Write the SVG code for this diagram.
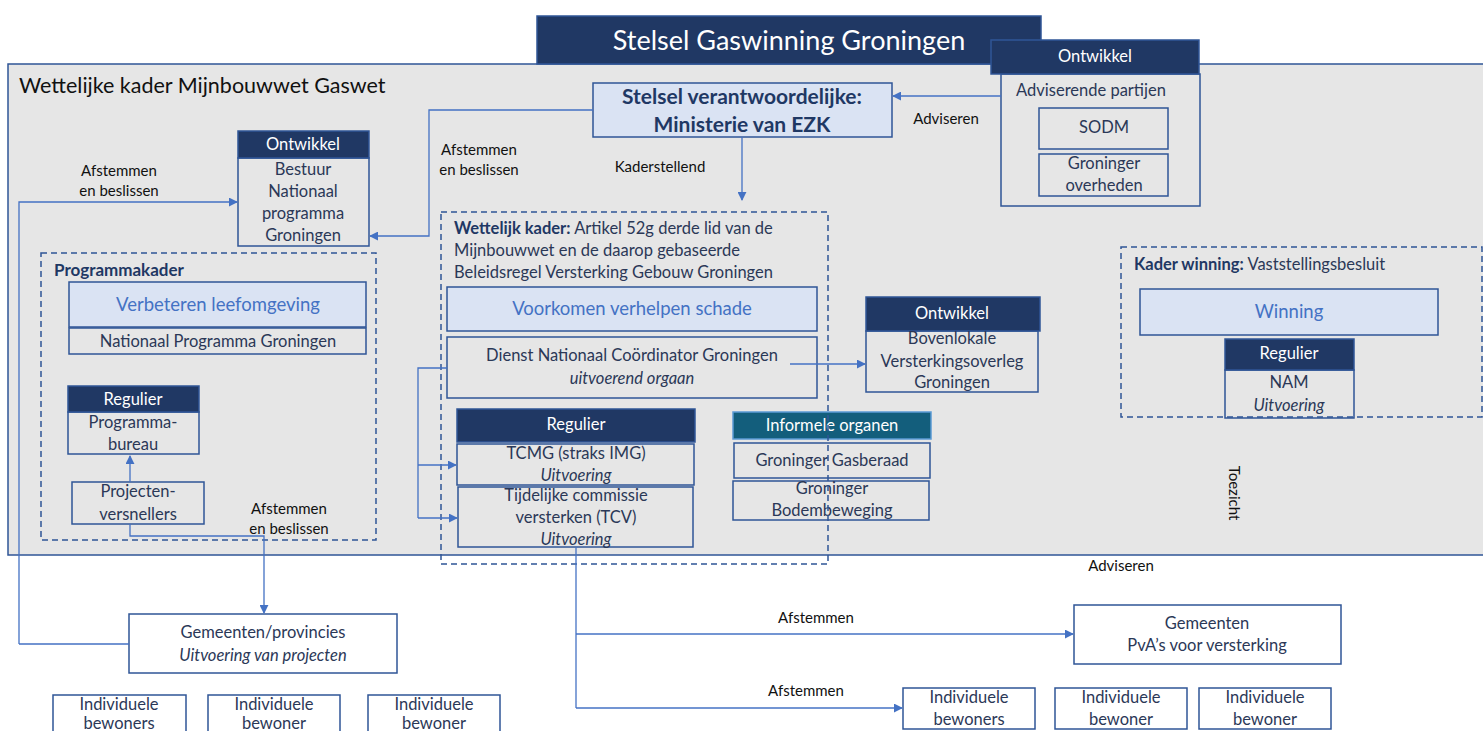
<svg xmlns="http://www.w3.org/2000/svg" width="1483" height="731" viewBox="0 0 1483 731">
<style>
text{font-family:Lato,"Noto Sans","Open Sans",sans-serif;}
.b{fill:none;stroke:#2f5597;stroke-width:1.5}
.bw{fill:#fff;stroke:#2f5597;stroke-width:1.5}
.lf{fill:#dae3f3;stroke:#2f5597;stroke-width:1.5}
.hd{fill:#203864;stroke:#2f5597;stroke-width:1.5}
.dash{fill:none;stroke:#2f5597;stroke-width:1.5;stroke-dasharray:6 4}
.c{fill:none;stroke:#4472c4;stroke-width:1.3}
.ca{fill:none;stroke:#4472c4;stroke-width:1.3;marker-end:url(#ah)}
.t{fill:#2b3857;font-size:16.5px;text-anchor:middle}
.ti{fill:#2b3857;font-size:16.5px;text-anchor:middle;font-style:italic}
.w{fill:#fff;font-size:16.5px;text-anchor:middle}
.bl{fill:#4472c4;font-size:18.5px;text-anchor:middle}
.lab{fill:#111;font-size:15px;text-anchor:middle}
.para{font-size:16.5px;fill:#2b3857}
</style>
<defs>
<marker id="ah" viewBox="0 0 10 10" refX="9" refY="5" markerWidth="9" markerHeight="9" markerUnits="userSpaceOnUse" orient="auto">
<path d="M0,0 L10,5 L0,10 z" fill="#4472c4"/>
</marker>
</defs>
<rect x="0" y="0" width="1483" height="731" fill="#fff"/>

<g id="frame">
<rect x="8" y="64" width="1485" height="491" fill="#e6e6e6" stroke="#2f5597" stroke-width="1.5"/>
<text x="19" y="93" style="font-size:21.5px;fill:#111">Wettelijke kader Mijnbouwwet Gaswet</text>
</g>

<g id="title">
<rect x="537" y="16" width="504" height="48" class="hd"/>
<text x="789" y="50" class="w" style="font-size:27px">Stelsel Gaswinning Groningen</text>
</g>

<g id="adviserende">
<rect x="1001" y="74" width="199" height="132" class="b"/>
<rect x="991" y="40" width="208" height="34" class="hd"/>
<text x="1095" y="62" class="w">Ontwikkel</text>
<text x="1091" y="96" class="t">Adviserende partijen</text>
</g>
<g id="sodm">
<rect x="1039" y="108" width="129" height="41" class="b"/>
<text x="1104" y="133" class="t">SODM</text>
</g>
<g id="groninger-overheden">
<rect x="1039" y="154" width="129" height="42" class="b"/>
<text x="1104" y="169" class="t">Groninger</text>
<text x="1104" y="191" class="t">overheden</text>
</g>

<g id="ezk">
<rect x="593" y="83" width="299" height="54" class="lf"/>
<text x="742" y="104" class="t" style="font-weight:bold;font-size:21px;fill:#1f3864">Stelsel verantwoordelijke:</text>
<text x="742" y="132" class="t" style="font-weight:bold;font-size:21px;fill:#1f3864">Ministerie van EZK</text>
</g>

<g id="bestuur">
<rect x="238" y="158" width="131" height="88" class="b"/>
<rect x="238" y="131" width="131" height="27" class="hd"/>
<text x="303" y="150" class="w">Ontwikkel</text>
<text x="303" y="175" class="t">Bestuur</text>
<text x="303" y="197" class="t">Nationaal</text>
<text x="303" y="219" class="t">programma</text>
<text x="303" y="241" class="t">Groningen</text>
</g>

<g id="programmakader">
<rect x="41" y="253" width="335" height="287" class="dash"/>
<text x="54" y="276" style="font-size:17px;font-weight:bold;fill:#1f3864">Programmakader</text>
</g>
<g id="verbeteren">
<rect x="69" y="282" width="297" height="45" class="lf"/>
<text x="218" y="311" class="bl">Verbeteren leefomgeving</text>
</g>
<g id="npg">
<rect x="69" y="328" width="297" height="26" class="b"/>
<text x="218" y="347" class="t">Nationaal Programma Groningen</text>
</g>
<g id="programmabureau">
<rect x="68" y="412" width="131" height="42" class="b"/>
<rect x="68" y="386" width="131" height="26" class="hd"/>
<text x="133" y="405" class="w">Regulier</text>
<text x="133" y="428" class="t">Programma-</text>
<text x="133" y="450" class="t">bureau</text>
</g>
<g id="projectenversnellers">
<rect x="72" y="482" width="132" height="42" class="b"/>
<text x="138" y="497" class="t">Projecten-</text>
<text x="138" y="520" class="t">versnellers</text>
</g>

<g id="voorkomen">
<rect x="447" y="287" width="370" height="44" class="lf"/>
<text x="632" y="315" class="bl">Voorkomen verhelpen schade</text>
</g>
<g id="dienst">
<rect x="447" y="337" width="370" height="61" class="b"/>
<text x="632" y="361" class="t">Dienst Nationaal Coördinator Groningen</text>
<text x="632" y="384" class="ti">uitvoerend orgaan</text>
</g>
<g id="regulier-header">
<rect x="457" y="409" width="238" height="33" class="hd"/>
<text x="576" y="430" class="w">Regulier</text>
</g>
<g id="tcmg">
<rect x="457" y="444" width="237" height="41" class="b"/>
<text x="576" y="459" class="t">TCMG (straks IMG)</text>
<text x="576" y="481" class="ti">Uitvoering</text>
</g>
<g id="tcv">
<rect x="458" y="487" width="235" height="60" class="b"/>
<text x="576" y="501" class="t">Tijdelijke commissie</text>
<text x="576" y="523" class="t">versterken (TCV)</text>
<text x="576" y="545" class="ti">Uitvoering</text>
</g>

<g id="bovenlokale">
<rect x="866" y="331" width="172" height="61" class="b"/>
<rect x="866" y="297" width="174" height="34" class="hd"/>
<text x="952" y="319" class="w">Ontwikkel</text>
<text x="952" y="344" class="t">Bovenlokale</text>
<text x="952" y="367" class="t">Versterkingsoverleg</text>
<text x="952" y="388" class="t">Groningen</text>
</g>

<g id="informele-organen">
<rect x="733" y="412" width="198" height="27" fill="#135e7c" stroke="#5b9bd5" stroke-width="1.5"/>
<text x="832" y="431" class="w">Informele organen</text>
</g>
<g id="gasberaad">
<rect x="734" y="443" width="196" height="35" class="b"/>
<text x="832" y="466" class="t">Groninger Gasberaad</text>
</g>
<g id="bodembeweging">
<rect x="733" y="481" width="196" height="39" class="b"/>
<text x="832" y="494" class="t">Groninger</text>
<text x="832" y="516" class="t">Bodembeweging</text>
</g>

<g id="wettelijk-kader">
<rect x="441" y="212" width="387" height="352" class="dash"/>
<text x="454" y="234" class="para"><tspan style="font-weight:bold;fill:#1f3864">Wettelijk kader:</tspan> Artikel 52g derde lid van de</text>
<text x="454" y="256" class="para">Mijnbouwwet en de daarop gebaseerde</text>
<text x="454" y="278" class="para">Beleidsregel Versterking Gebouw Groningen</text>
</g>

<g id="winning">
<rect x="1140" y="289" width="298" height="46" class="lf"/>
<text x="1289" y="318" class="bl">Winning</text>
</g>
<g id="nam">
<rect x="1225" y="370" width="129" height="48" class="b"/>
<rect x="1225" y="339" width="129" height="31" class="hd"/>
<text x="1289" y="359" class="w">Regulier</text>
<text x="1289" y="388" class="t">NAM</text>
<text x="1289" y="411" class="ti">Uitvoering</text>
</g>
<g id="kader-winning">
<rect x="1121" y="247" width="361" height="170" class="dash"/>
<text x="1134" y="270" class="para"><tspan style="font-weight:bold;fill:#1f3864">Kader winning:</tspan> Vaststellingsbesluit</text>
</g>

<g id="gemeenten-provincies">
<rect x="129" y="614" width="268" height="59" class="bw"/>
<text x="263" y="638" class="t">Gemeenten/provincies</text>
<text x="263" y="661" class="ti">Uitvoering van projecten</text>
</g>
<g id="gemeenten-pva">
<rect x="1074" y="605" width="267" height="59" class="bw"/>
<text x="1207" y="629" class="t">Gemeenten</text>
<text x="1207" y="651" class="t">PvA’s voor versterking</text>
</g>

<g id="bewoners-l1">
<rect x="53" y="695" width="133" height="45" class="bw"/>
<text x="119" y="710" class="t">Individuele</text>
<text x="119" y="729" class="t">bewoners</text>
</g>
<g id="bewoner-l2">
<rect x="208" y="695" width="132" height="45" class="bw"/>
<text x="274" y="710" class="t">Individuele</text>
<text x="274" y="729" class="t">bewoner</text>
</g>
<g id="bewoner-l3">
<rect x="368" y="695" width="132" height="45" class="bw"/>
<text x="434" y="710" class="t">Individuele</text>
<text x="434" y="729" class="t">bewoner</text>
</g>
<g id="bewoners-r1">
<rect x="903" y="688" width="132" height="41" class="bw"/>
<text x="969" y="703" class="t">Individuele</text>
<text x="969" y="725" class="t">bewoners</text>
</g>
<g id="bewoner-r2">
<rect x="1055" y="688" width="132" height="41" class="bw"/>
<text x="1121" y="703" class="t">Individuele</text>
<text x="1121" y="725" class="t">bewoner</text>
</g>
<g id="bewoner-r3">
<rect x="1199" y="688" width="132" height="41" class="bw"/>
<text x="1265" y="703" class="t">Individuele</text>
<text x="1265" y="725" class="t">bewoner</text>
</g>

<g id="connectors">
<path class="ca" d="M1001,96 H893"/>
<path class="ca" d="M742,137 V200"/>
<path class="ca" d="M593,110 H429 V236 H370"/>
<path class="ca" d="M19,644 H129 M19,644 V202 H237"/>
<path class="ca" d="M130,482 V456"/>
<path class="ca" d="M130,524 V536 H264 V613"/>
<path class="c" d="M447,368 H418 V518"/>
<path class="ca" d="M418,465 H456"/>
<path class="ca" d="M418,518 H457"/>
<path class="ca" d="M790,364 H865"/>
<path class="c" d="M576,547 V708"/>
<path class="ca" d="M576,634 H1073"/>
<path class="ca" d="M576,708 H902"/>
</g>

<g id="labels">
<text x="119" y="176" class="lab">Afstemmen</text>
<text x="119" y="196" class="lab">en beslissen</text>
<text x="479" y="155" class="lab">Afstemmen</text>
<text x="479" y="175" class="lab">en beslissen</text>
<text x="660" y="172" class="lab">Kaderstellend</text>
<text x="946" y="124" class="lab">Adviseren</text>
<text x="289" y="514" class="lab">Afstemmen</text>
<text x="289" y="534" class="lab">en beslissen</text>
<text x="1234" y="493" class="lab" transform="rotate(90 1234 493)" dy="5">Toezicht</text>
<text x="1121" y="571" class="lab">Adviseren</text>
<text x="816" y="623" class="lab">Afstemmen</text>
<text x="806" y="696" class="lab">Afstemmen</text>
</g>
</svg>
